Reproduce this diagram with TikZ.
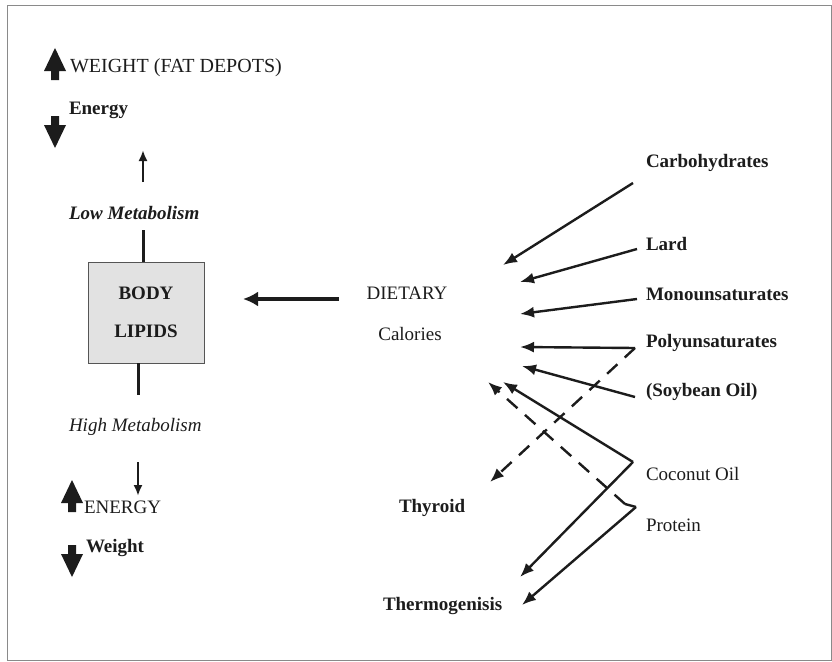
\documentclass[tikz,border=0pt]{standalone}
\usepackage{fontspec}
\setmainfont{Liberation Serif}
\usetikzlibrary{arrows.meta}
\definecolor{boxG}{HTML}{E2E2E2}
\definecolor{frameG}{HTML}{8A8A8A}
\definecolor{ink}{HTML}{1C1C1C}
\newcommand{\lb}{\fontsize{19}{22}\selectfont}
\newcommand{\lbB}{\fontsize{19}{22}\selectfont\bfseries}

\begin{document}
\begin{tikzpicture}[x=1pt,y=-1pt,every node/.style={inner sep=0pt,outer sep=0pt,text=ink},
 feed/.style={ink,line width=2.4pt,-{Latex[length=14pt,width=11pt]}},
 feedD/.style={feed,dash pattern=on 14pt off 10pt},
 stem/.style={ink,line width=3pt}]
\path[use as bounding box] (0,0) rectangle (832,661);
\fill[white] (0,0) rectangle (832,661);
% ---------- frame
\draw[frameG,line width=1pt] (7,6) rectangle (831,660);
% ---------- block arrows: #1 = x, #2 = tip y, #3 = 1 up / -1 down
\newcommand{\blk}[3]{%
 \fill[ink] (#1,#2) -- ++(11,23*#3) -- ++(-7,0) -- ++(0,9*#3) -- ++(-8,0) -- ++(0,-9*#3) -- ++(-7,0) -- cycle;}
\blk{55}{48}{1}
\blk{55}{148}{-1}
\blk{72}{480}{1}
\blk{72}{577}{-1}
% ---------- left column
\node[anchor=west] (wt) at (70,68) {\fontsize{20}{22}\selectfont WEIGHT (FAT DEPOTS)};
\node[anchor=west] (en) at (69,110) {\lbB Energy};
\node[anchor=west] (lowm) at (69,213) {\lbB\itshape Low Metabolism};
\node[draw=ink!75,fill=boxG,line width=1pt,minimum width=116pt,minimum height=101pt,align=center,font=\lbB] (lip) at (146,312.5) {BODY\\[16pt]LIPIDS};
\node[anchor=west] (highm) at (69,427) {\lb\itshape High Metabolism};
\node[anchor=west] (energy) at (84,507) {\lb ENERGY};
\node[anchor=west] (wgt) at (86,548) {\lbB Weight};
% stems above and below the box
\coordinate (lowT) at (143,230);
\coordinate (upA) at (143,182);
\coordinate (upB) at (143,150);
\coordinate (highT) at (138,395);
\coordinate (dnA) at (138,462);
\coordinate (dnB) at (138,496);
\draw[stem] (lip.north -| lowT) -- (lowT);
\draw[stem] (lip.south -| highT) -- (highT);
\draw[ink,line width=2.6pt,-{Latex[length=11pt,width=9pt]}] (upA) -- (upB);
\draw[ink,line width=2.6pt,-{Latex[length=11pt,width=9pt]}] (dnA) -- (dnB);
% ---------- dietary calories
\node (diet) at (407,293) {\lb DIETARY};
\node (cal) at (410,334) {\lb Calories};
\coordinate (dA) at (339,299);
\coordinate (dB) at (243,299);
\draw[ink,line width=4.8pt,-{Latex[length=15pt,width=15pt]}] (dA) -- (dB);
% ---------- sources
\foreach \nm/\yy/\txt in {carb/163/Carbohydrates, lard/244/Lard, mono/294/Monounsaturates, poly/343/Polyunsaturates, soy/392/(Soybean Oil)}
 \node[anchor=west] (\nm) at (646,\yy) {\lbB \txt};
\node[anchor=west] (coco) at (646,474) {\lb Coconut Oil};
\node[anchor=west] (prot) at (646,525) {\lb Protein};
\node[anchor=west] (thy) at (399,508) {\lbB Thyroid};
\node[anchor=west] (thermo) at (383,606) {\lbB Thermogenisis};
% start points
\coordinate (carbS) at (633,183);
\coordinate (lardS) at (637,249);
\coordinate (monoS) at (637,299);
\coordinate (polyS) at (635,348);
\coordinate (soyS) at (635,397);
\coordinate (cocoS) at (633,462);
\coordinate (protL) at (625,504);
\coordinate (protR) at (636,507);
% tips near calories
\coordinate (carbT) at (503,265);
\coordinate (lardT) at (520,282);
\coordinate (monoT) at (520,314);
\coordinate (polyT) at (520,347);
\coordinate (soyT) at (522,366);
\coordinate (cocoT) at (503,382);
\coordinate (protT) at (488,382);
% tips near thyroid / thermogenisis
\coordinate (thyT) at (490,482);
\coordinate (cocoH) at (520,577);
\coordinate (protH) at (522,605);
\draw[feed] (carbS) -- (carbT);
\draw[feed] (lardS) -- (lardT);
\draw[feed] (monoS) -- (monoT);
\draw[feed] (polyS) -- (polyT);
\draw[feed] (soyS) -- (soyT);
\draw[feed] (cocoS) -- (cocoT);
\draw[feed] (cocoS) -- (cocoH);
\draw[ink,line width=2.4pt] (protL) -- (protR);
\draw[feed] (protR) -- (protH);
\draw[feedD] (polyS) -- (thyT);
\draw[feedD] (protL) -- (protT);
\end{tikzpicture}
\end{document}
